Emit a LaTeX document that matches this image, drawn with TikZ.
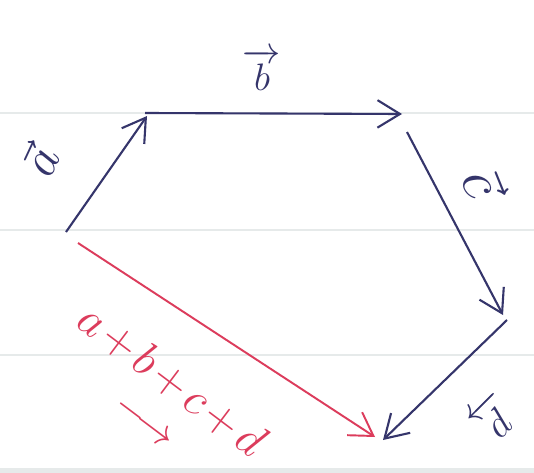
\documentclass[tikz,border=0pt]{standalone}
\usepackage{amsmath,amssymb}
\usepackage{graphicx}
\usepackage{xcolor}
\usepackage{tikz}
\usetikzlibrary{arrows.meta,calc}

\definecolor{ink}{HTML}{35356B}
\definecolor{redink}{HTML}{DC3C5C}
\definecolor{paperline}{HTML}{E6EAEA}

\newcommand{\pl}{\mkern2mu{+}\mkern2mu}

\begin{document}
\begin{tikzpicture}[
  x=0.02cm, y=-0.02cm,
  every node/.style={font=\huge, inner sep=0pt},
  vec/.style={-{Straight Barb[length=4.5mm, width=5.5mm]}, line width=1.2pt, draw=ink},
  resvec/.style={-{Straight Barb[length=4.5mm, width=5.5mm]}, line width=1.1pt, draw=redink},
  lbl/.style={text=ink},
  reslbl/.style={text=redink},
  ruled/.style={draw=paperline, line width=0.8pt}
]
\useasboundingbox (0,0) rectangle (534,473);
\fill[white] (0,0) rectangle (534,473);
% ruled paper
\foreach \y in {113,230,355}
  \draw[ruled] (0,\y) -- (534,\y);
\fill[paperline] (0,468) rectangle (534,473);

% corners of the polygon
\coordinate (O) at (66,232);
\coordinate (A) at (147,116);
\coordinate (B0) at (145,113);
\coordinate (B) at (402,114);
\coordinate (C0) at (407,132);
\coordinate (C) at (503,315);
\coordinate (D0) at (507,320);
\coordinate (D) at (383,440);
\coordinate (R0) at (78,243);
\coordinate (R) at (375,437);

\draw[vec] (O) -- (A);
\draw[vec] (B0) -- (B);
\draw[vec] (C0) -- (C);
\draw[vec] (D0) -- (D);
\draw[resvec] (R0) -- (R);

% labels
\node[lbl, rotate=65] (la) at (40,160) {\scalebox{1.4}{$\vec{a}$}};
\node[lbl] (lb) at (262,70) {\scalebox{1.05}{$\overrightarrow{b}$}};
\node[lbl, rotate=-68] (lc) at (484,182) {\scalebox{1.6}{$\vec{c}$}};
\node[lbl, rotate=45] (ld) at (493,418) {\scalebox{1.1}{$\overleftarrow{d}$}};
\node[reslbl, rotate=-37] (lr) at (172,380) {\scalebox{1.3}{$a\pl b\pl c\pl d$}};
\node[reslbl, rotate=-37] (lrarrow) at (143,424) {\scalebox{1.15}{$\longrightarrow$}};
\end{tikzpicture}
\end{document}
